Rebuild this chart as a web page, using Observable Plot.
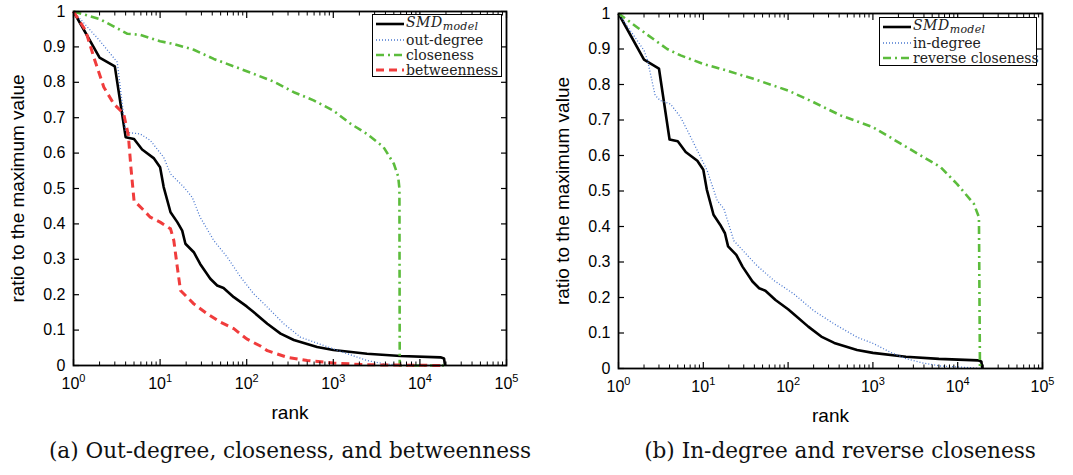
<!DOCTYPE html>
<html><head><meta charset="utf-8">
<script src="https://cdn.jsdelivr.net/npm/d3@7"></script>
<script src="https://cdn.jsdelivr.net/npm/@observablehq/plot@0.6"></script>
<style>
body{margin:0;background:#fff;}
#wrap{position:relative;width:1073px;height:475px;overflow:hidden;background:#fff;}
.panel{position:absolute;top:0;}
.legend{position:absolute;border:1.6px solid #000;background:#fff;font-family:"DejaVu Serif",serif;font-size:14px;color:#222;box-sizing:border-box;padding:0 3px;}
.row{display:flex;align-items:center;height:15px;white-space:nowrap;}
.row.first{height:17px;}
.row svg{margin-right:2px;flex:none;}
.smd{font-style:italic;letter-spacing:0.5px;}
.smd sub{font-size:11px;vertical-align:-3px;letter-spacing:0.3px;}
.caption{position:absolute;font-family:"DejaVu Serif",serif;font-size:21.6px;color:#111;white-space:nowrap;transform:translateX(-50%);line-height:24px;}
</style></head><body><div id="wrap"></div>
<script>
// ---------- data ----------
const smdRank  = [1, 2, 3, 4, 5, 6.2, 8.5, 10, 11, 13.2, 15.8, 18, 19.6, 24.5, 29, 38, 45.6, 54, 71, 100, 120, 173, 246, 350, 650, 1000, 2450, 6000, 17300, 19000, 19500];
const smdValue = [1, 0.87, 0.845, 0.645, 0.64, 0.61, 0.585, 0.56, 0.504, 0.433, 0.405, 0.381, 0.344, 0.32, 0.287, 0.245, 0.226, 0.219, 0.193, 0.167, 0.151, 0.118, 0.09, 0.072, 0.052, 0.044, 0.033, 0.027, 0.023, 0.02, 0];

const outDegreeRank  = [1, 2, 3.2, 4, 5.9, 7.7, 11, 13.2, 18.8, 23.5, 29, 41.7, 59.6, 85, 120, 173, 268, 418, 1000, 2450, 4000, 8000, 19000];
const outDegreeValue = [1, 0.918, 0.857, 0.659, 0.654, 0.636, 0.588, 0.541, 0.504, 0.475, 0.419, 0.353, 0.306, 0.25, 0.203, 0.165, 0.118, 0.08, 0.047, 0.014, 0.004, 0, 0];

const closenessRank  = [1, 2, 3, 4.2, 5.9, 10, 14.4, 24.5, 41.7, 71, 120, 205, 350, 593, 1000, 1580, 2450, 3800, 5000, 5600, 5800, 5850, 19500];
const closenessValue = [1, 0.979, 0.956, 0.937, 0.934, 0.916, 0.908, 0.892, 0.866, 0.845, 0.824, 0.802, 0.772, 0.749, 0.72, 0.683, 0.654, 0.617, 0.57, 0.535, 0.5, 0, 0];

const betweennessRank  = [1, 1.38, 1.72, 2.24, 2.92, 3.8, 4.3, 4.6, 5.0, 6.5, 7.7, 10, 13.2, 14.4, 15.8, 17.2, 24.5, 35, 50, 71, 100, 144, 173, 294, 500, 1000, 2450, 19500];
const betweennessValue = [1, 0.946, 0.87, 0.786, 0.739, 0.711, 0.65, 0.56, 0.466, 0.438, 0.419, 0.405, 0.386, 0.353, 0.278, 0.212, 0.174, 0.146, 0.122, 0.104, 0.075, 0.055, 0.042, 0.023, 0.014, 0.007, 0.002, 0];

const inDegreeRank  = [1, 2, 2.2, 2.7, 3.1, 4.1, 5.4, 7.1, 9.3, 11.1, 14.6, 17.5, 22.9, 42, 68, 117, 200, 347, 653, 1020, 1600, 2500, 4000, 6300, 15000, 18000];
const inDegreeValue = [1, 0.896, 0.868, 0.77, 0.755, 0.745, 0.708, 0.652, 0.595, 0.558, 0.473, 0.45, 0.36, 0.292, 0.248, 0.21, 0.163, 0.126, 0.088, 0.07, 0.046, 0.027, 0.015, 0.007, 0.002, 0];

const revClosenessRank  = [1, 2, 3.75, 5.4, 10, 19, 39, 100, 200, 415, 1000, 2520, 6300, 9800, 15500, 17800, 18300];
const revClosenessValue = [1, 0.947, 0.9, 0.882, 0.858, 0.839, 0.816, 0.783, 0.75, 0.713, 0.68, 0.623, 0.567, 0.52, 0.464, 0.426, 0];

const xMajorTicks = [1, 10, 100, 1000, 10000, 100000];
const xTickExponents = ["0", "1", "2", "3", "4", "5"];
const xMinorMultipliers = [2, 3, 4, 5, 6, 7, 8, 9];
const yTicks = [0, 0.1, 0.2, 0.3, 0.4, 0.5, 0.6, 0.7, 0.8, 0.9, 1];
const yTickLabels = ["0", "0.1", "0.2", "0.3", "0.4", "0.5", "0.6", "0.7", "0.8", "0.9", "1"];

const xLabel = "rank";
const yLabel = "ratio to the maximum value";
const captionA = "(a) Out-degree, closeness, and betweenness";
const captionB = "(b) In-degree and reverse closeness";

// ---------- styles ----------
const styles = {
  smd: {stroke: "#000000", strokeWidth: 2.6},
  degree: {stroke: "#4a78d0", strokeWidth: 1.3, strokeDasharray: "1,2"},
  closeness: {stroke: "#5cbc3c", strokeWidth: 2.6, strokeDasharray: "8,4,2,4"},
  betweenness: {stroke: "#f03c3c", strokeWidth: 3, strokeDasharray: "8,5"}
};
const sansFont = "Liberation Sans, Arimo, Helvetica, Roboto, sans-serif";

const xMinorTicks = xMajorTicks.slice(0, -1).flatMap(d => xMinorMultipliers.map(m => m * d));
const toRows = (r, v) => r.map((d, i) => ({rank: d, value: v[i]}));

function panel(series, m) {
  const svg = Plot.plot({
    width: m.width, height: m.height,
    marginLeft: m.left, marginRight: m.right, marginTop: m.top, marginBottom: m.bottom,
    style: {fontSize: "16px", fontFamily: sansFont, color: "#000", background: "transparent", overflow: "visible"},
    x: {type: "log", domain: [1, 100000], label: null},
    y: {domain: [0, 1], label: null},
    marks: [
      ...series.map(s => Plot.line(toRows(s.rank, s.value), {x: "rank", y: "value", ...styles[s.style], strokeLinejoin: "round", strokeLinecap: "butt"})),
      Plot.frame({stroke: "#000", strokeWidth: 1.8}),
      Plot.axisX(xMajorTicks, {anchor: "bottom", tickSize: -6, tickFormat: () => "", label: null, strokeWidth: 1.2}),
      Plot.axisX(xMajorTicks, {anchor: "top", tickSize: -6, tickFormat: () => "", label: null, strokeWidth: 1.2}),
      Plot.axisX(xMinorTicks, {anchor: "bottom", tickSize: -3.5, tickFormat: () => "", label: null, strokeWidth: 1}),
      Plot.axisX(xMinorTicks, {anchor: "top", tickSize: -3.5, tickFormat: () => "", label: null, strokeWidth: 1}),
      Plot.axisX(xMajorTicks, {anchor: "bottom", tickSize: 0, tickPadding: 12, label: null,
        tickFormat: d => "10^" + xTickExponents[xMajorTicks.indexOf(d)]}),
      Plot.axisY(yTicks, {anchor: "left", tickSize: -6, tickFormat: () => "", label: null, strokeWidth: 1.2}),
      Plot.axisY(yTicks, {anchor: "right", tickSize: -6, tickFormat: () => "", label: null, strokeWidth: 1.2}),
      Plot.axisY(yTicks, {anchor: "left", tickSize: 0, tickPadding: 8, label: null,
        tickFormat: d => yTickLabels[yTicks.indexOf(d)]}),
      Plot.text([xLabel], {frameAnchor: "bottom", dy: 53, fontSize: 19, textAnchor: "middle"}),
      Plot.text([yLabel], {frameAnchor: "left", rotate: -90, dx: -56, fontSize: 19, textAnchor: "middle"})
    ]
  });
  const ns = "http://www.w3.org/2000/svg";
  // superscript exponents on x tick labels
  svg.querySelectorAll('g[aria-label="x-axis tick label"] text').forEach(t => {
    const s = t.textContent;
    if (!s.includes("^")) return;
    const [base, exp] = s.split("^");
    t.textContent = "";
    const b = document.createElementNS(ns, "tspan"); b.textContent = base;
    const e = document.createElementNS(ns, "tspan"); e.textContent = exp;
    e.setAttribute("dy", "-7"); e.setAttribute("font-size", "11px");
    t.appendChild(b); t.appendChild(e);
  });
  svg.querySelectorAll("text").forEach(t => t.setAttribute("font-family", sansFont));
  svg.classList.add("panel");
  svg.style.left = m.x + "px";
  return svg;
}

function legend(items, box) {
  const div = document.createElement("div");
  div.className = "legend";
  Object.assign(div.style, {left: box.left + "px", top: box.top + "px", width: box.width + "px", height: box.height + "px"});
  items.forEach((it, i) => {
    const row = document.createElement("div");
    row.className = "row" + (i === 0 ? " first" : "");
    const st = styles[it.style];
    row.innerHTML = `<svg width="28" height="10"><line x1="0" y1="5" x2="28" y2="5" stroke="${st.stroke}" stroke-width="${st.strokeWidth}" ${st.strokeDasharray ? `stroke-dasharray="${st.strokeDasharray}"` : ""}/></svg>` +
      (it.math ? `<span class="smd">SMD<sub>model</sub></span>` : `<span>${it.label}</span>`);
    div.appendChild(row);
  });
  return div;
}

const wrap = document.getElementById("wrap");

const left = panel([
  {rank: smdRank, value: smdValue, style: "smd"},
  {rank: outDegreeRank, value: outDegreeValue, style: "degree"},
  {rank: closenessRank, value: closenessValue, style: "closeness"},
  {rank: betweennessRank, value: betweennessValue, style: "betweenness"}
], {x: 0, width: 536, height: 430, left: 73, right: 30, top: 11, bottom: 65});

const right = panel([
  {rank: smdRank, value: smdValue, style: "smd"},
  {rank: inDegreeRank, value: inDegreeValue, style: "degree"},
  {rank: revClosenessRank, value: revClosenessValue, style: "closeness"}
], {x: 536, width: 537, height: 430, left: 82, right: 31, top: 13, bottom: 62});

wrap.appendChild(left);
wrap.appendChild(right);

wrap.appendChild(legend([
  {math: true, style: "smd"},
  {label: "out-degree", style: "degree"},
  {label: "closeness", style: "closeness"},
  {label: "betweenness", style: "betweenness"}
], {left: 372, top: 14, width: 130, height: 63}));

wrap.appendChild(legend([
  {math: true, style: "smd"},
  {label: "in-degree", style: "degree"},
  {label: "reverse closeness", style: "closeness"}
], {left: 879, top: 17, width: 158, height: 49}));

const capA = document.createElement("div");
capA.className = "caption"; capA.textContent = captionA;
Object.assign(capA.style, {left: "290px", top: "439px"});
const capB = document.createElement("div");
capB.className = "caption"; capB.textContent = captionB;
Object.assign(capB.style, {left: "840px", top: "439px"});
wrap.appendChild(capA); wrap.appendChild(capB);
</script></body></html>
